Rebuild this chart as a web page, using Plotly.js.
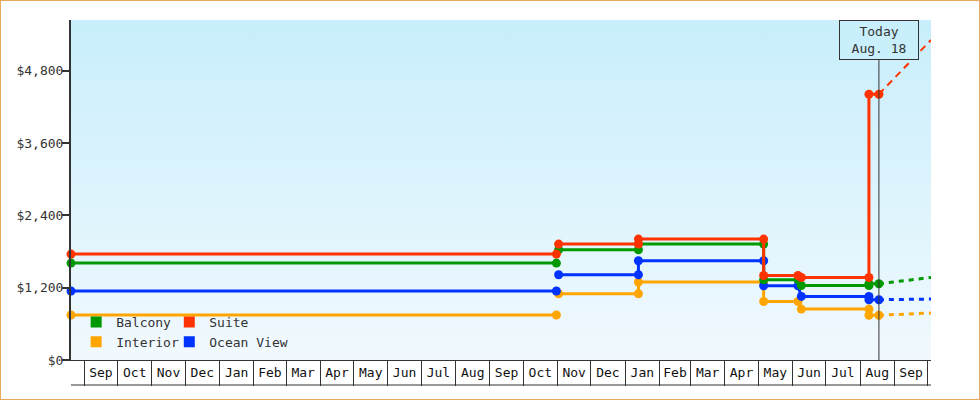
<!DOCTYPE html>
<html>
<head>
<meta charset="utf-8">
<script src="https://cdn.plot.ly/plotly-3.0.1.min.js"></script>
<style>
  html, body { margin: 0; padding: 0; background: #ffffff; }
  #wrap { position: relative; width: 980px; height: 400px; }
  #chart { width: 980px; height: 400px; }
  #frame { position: absolute; left: 0; top: 0; width: 980px; height: 400px; box-sizing: border-box;
           border: 1px solid #e8a95f; pointer-events: none; }
</style>
</head>
<body>
<div id="wrap"><div id="chart"></div><div id="frame"></div></div>
<script>
// ---- data ----
const rangeStart = '2023-08-20';
const rangeEnd = '2025-10-04';
const today = '2025-08-18';
const todayLabel = 'Today<br>Aug. 18';

// price levels: each level runs from levelStarts[i] to levelEnds[i]
const levelStarts = ['2023-08-20', '2024-11-02', '2025-01-13', '2025-05-06', '2025-06-09', '2025-08-09'];
const levelEnds   = ['2024-10-31', '2025-01-13', '2025-05-06', '2025-06-06', '2025-08-09', '2025-08-18'];
// the data has a gap between the first and the second level
const gapAfterLevel = 0;

const seriesNames = ['Balcony', 'Interior', 'Suite', 'Ocean View'];
const balconyPrices  = [1608, 1828, 1923, 1331, 1236, 1265];
const interiorPrices = [746, 1099, 1293, 971, 845, 743];
const suitePrices    = [1757, 1923, 2006, 1402, 1369, 4409];
const oceanPrices    = [1144, 1414, 1646, 1232, 1055, 1000];

// projected prices at the end of the axis range
const balconyForecast  = 1369;
const interiorForecast = 779;
const suiteForecast    = 5309;
const oceanForecast    = 1011;

const colors = { 'Balcony': '#009900', 'Interior': '#ffa500', 'Suite': '#ff3300', 'Ocean View': '#0033ff' };

// ---- build traces ----
const FONT = '"DejaVu Sans Mono", "Liberation Mono", monospace';

function stepTrace(name, prices) {
  const x = [], y = [];
  prices.forEach((p, i) => {
    if (i === gapAfterLevel + 1) { x.push(null); y.push(null); }
    x.push(levelStarts[i]); y.push(p);
    x.push(levelEnds[i]); y.push(p);
  });
  return {
    type: 'scatter', mode: 'lines+markers', name: name, x: x, y: y,
    connectgaps: false, cliponaxis: false, showlegend: false,
    line: { color: colors[name], width: 3 },
    marker: { color: colors[name], size: 9, symbol: 'circle' },
    hoverinfo: 'x+y'
  };
}
function forecastTrace(name, prices, target, dash, width) {
  return {
    type: 'scatter', mode: 'lines', name: name + ' forecast',
    x: [today, rangeEnd], y: [prices[prices.length - 1], target],
    cliponaxis: false, showlegend: false,
    line: { color: colors[name], width: width, dash: dash },
    hoverinfo: 'skip'
  };
}
function legendTrace(name, legendId) {
  return {
    type: 'scatter', mode: 'markers', name: name, x: [null], y: [null],
    legend: legendId, showlegend: true,
    marker: { color: colors[name], size: 11, symbol: 'square' }
  };
}

const traces = [
  forecastTrace('Interior', interiorPrices, interiorForecast, '5px,5px', 3),
  forecastTrace('Ocean View', oceanPrices, oceanForecast, '5px,5px', 3),
  forecastTrace('Balcony', balconyPrices, balconyForecast, '5px,5px', 3),
  forecastTrace('Suite', suitePrices, suiteForecast, '7px,5px', 2),
  stepTrace('Interior', interiorPrices),
  stepTrace('Ocean View', oceanPrices),
  stepTrace('Balcony', balconyPrices),
  stepTrace('Suite', suitePrices),
  legendTrace('Balcony', 'legend'),
  legendTrace('Interior', 'legend'),
  legendTrace('Suite', 'legend2'),
  legendTrace('Ocean View', 'legend2')
];

const gradSvg = "<svg xmlns='http://www.w3.org/2000/svg' width='10' height='100' preserveAspectRatio='none'>" +
  "<defs><linearGradient id='g' x1='0' y1='0' x2='0' y2='1'>" +
  "<stop offset='0' stop-color='#c8eefc'/><stop offset='1' stop-color='#f1f9fe'/>" +
  "</linearGradient></defs><rect width='10' height='100' fill='url(#g)'/></svg>";

const legendCommon = {
  orientation: 'v', bgcolor: 'rgba(0,0,0,0)', borderwidth: 0,
  font: { family: FONT, size: 13, color: '#333333' },
  itemwidth: 30, tracegroupgap: 0, yanchor: 'top', xanchor: 'left'
};

const layout = {
  width: 980, height: 400,
  margin: { l: 71, r: 49, t: 20, b: 40, pad: 0 },
  paper_bgcolor: '#ffffff',
  plot_bgcolor: 'rgba(0,0,0,0)',
  font: { family: FONT, size: 13, color: '#333333' },
  showlegend: true,
  legend: Object.assign({}, legendCommon, { x: 0.006, y: 0.156 }),
  legend2: Object.assign({}, legendCommon, { x: 0.1143, y: 0.156 }),
  xaxis: {
    type: 'date', range: [rangeStart, rangeEnd],
    showgrid: false, zeroline: false,
    showline: true, linecolor: '#333333', linewidth: 1,
    ticks: 'outside', ticklen: 25, tickwidth: 1, tickcolor: '#333333',
    dtick: 'M1', tick0: '2023-09-01', tickformat: '%b',
    ticklabelmode: 'period', ticklabelstandoff: -25,
    tickfont: { family: FONT, size: 13, color: '#111111' }
  },
  yaxis: {
    range: [0, 5640], showgrid: false, zeroline: false,
    showline: true, linecolor: '#333333', linewidth: 2,
    ticks: 'outside', ticklen: 7, tickwidth: 2, tickcolor: '#333333',
    tick0: 0, dtick: 1200, tickprefix: '$', tickformat: ',d',
    ticklabelstandoff: -4,
    tickfont: { family: FONT, size: 13, color: '#333333' }
  },
  images: [{
    source: 'data:image/svg+xml;charset=utf-8,' + encodeURIComponent(gradSvg),
    xref: 'paper', yref: 'paper', x: 0, y: 1, sizex: 1, sizey: 1,
    sizing: 'stretch', xanchor: 'left', yanchor: 'top', layer: 'below'
  }],
  shapes: [
    { type: 'line', xref: 'x', yref: 'paper', x0: today, x1: today, y0: 0, y1: 1,
      line: { color: '#333333', width: 1 } },
    { type: 'line', xref: 'paper', yref: 'paper', x0: 0, x1: 1, y0: -25 / 340, y1: -25 / 340,
      line: { color: '#333333', width: 1 } }
  ],
  annotations: [{
    x: today, xref: 'x', y: 1, yref: 'paper', xanchor: 'center', yanchor: 'top',
    text: todayLabel, showarrow: false, align: 'center',
    font: { family: FONT, size: 13, color: '#333333' },
    bgcolor: '#c9eefc', bordercolor: '#333333', borderwidth: 1, borderpad: 1,
    width: 76, height: 36
  }]
};

Plotly.newPlot('chart', traces, layout, { displayModeBar: false, staticPlot: true });
</script>
</body>
</html>
